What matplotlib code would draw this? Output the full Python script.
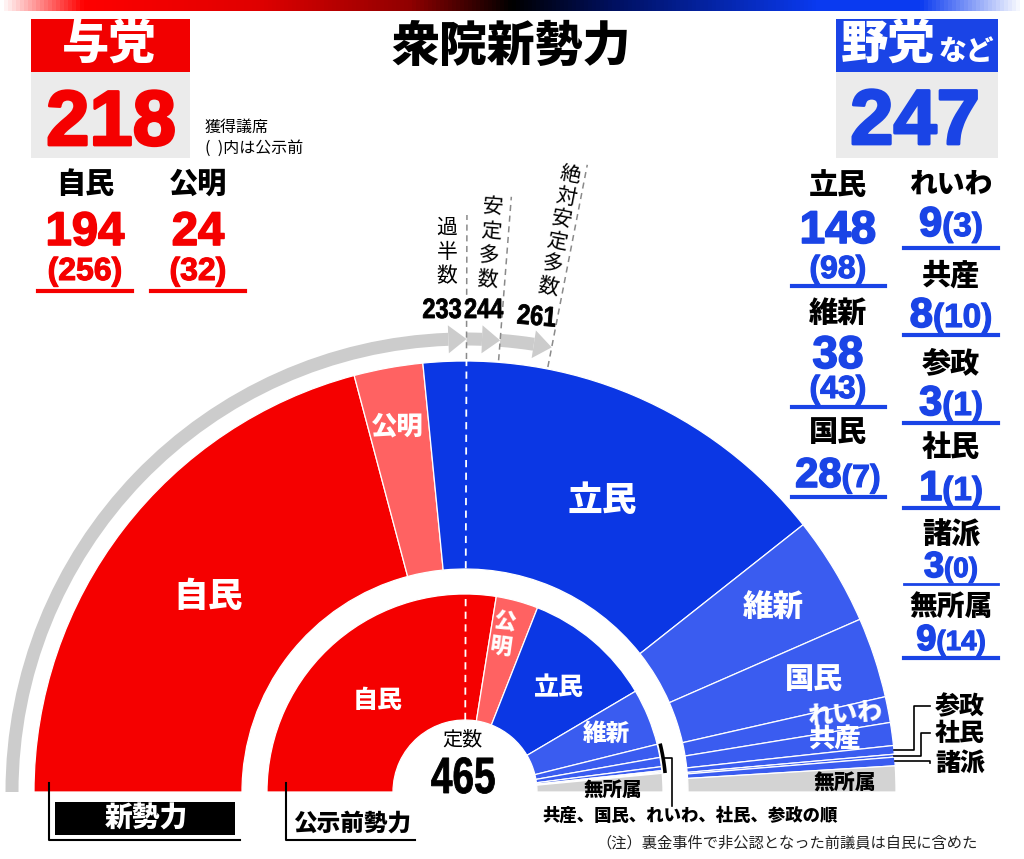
import numpy as np
import matplotlib
matplotlib.use('Agg')
import matplotlib.pyplot as plt
import matplotlib.patheffects as pe
from matplotlib.patches import Wedge, Rectangle, Polygon, PathPatch
from matplotlib.colors import LinearSegmentedColormap
from matplotlib.textpath import TextPath
from matplotlib.font_manager import FontProperties
from matplotlib.transforms import Affine2D

plt.rcParams['font.family'] = ['Noto Sans CJK JP', 'DejaVu Sans']

# 議席データ
total_seats = 465
parties_new = ['自民', '公明', '立民', '維新', '国民', 'れいわ', '共産', '参政', '社民', '諸派', '無所属']
seats_new = [194, 24, 148, 38, 28, 9, 8, 3, 1, 3, 9]
parties_before = ['自民', '公明', '立民', '維新', '共産', '国民', 'れいわ', '社民', '参政', '無所属']
seats_before = [256, 32, 98, 43, 10, 7, 3, 1, 1, 14]

thresholds = [233, 244, 261]
threshold_names = ['過半数', '安定多数', '絶対安定多数']

ruling_total = 218
opposition_total = 247
ruling_parties = ['自民', '公明']
ruling_new = [194, 24]
ruling_before = [256, 32]
opp_parties = ['立民', '維新', '国民', 'れいわ', '共産', '参政', '社民', '諸派', '無所属']
opp_new = [148, 38, 28, 9, 8, 3, 1, 3, 9]
opp_before = [98, 43, 7, 3, 10, 1, 1, 0, 14]

# 色
RED = '#f50000'
PINK = '#ff6262'
BLUE_D = '#0b37e4'
BLUE_L = '#3a5cf0'
BLUE_T = '#1a44e6'
GRAY = '#d3d3d3'
colors = {'自民': RED, '公明': PINK, '立民': BLUE_D, '無所属': GRAY}

NUM = ['Liberation Sans', 'DejaVu Sans']
JP = ['Noto Sans CJK JP', 'DejaVu Sans']
num_fp = FontProperties(family='Liberation Sans', weight='bold')

fig = plt.figure(figsize=(10.24, 8.59), dpi=100)
ax = fig.add_axes([0, 0, 1, 1])
ax.set_xlim(0, 1024)
ax.set_ylim(859, 0)
ax.axis('off')

CX, CY = 465, 792


def ang(s):
    return 180 - s / total_seats * 180


def pol(r, t):
    t = np.radians(t)
    return CX + r * np.cos(t), CY - r * np.sin(t)


def ring(names, seats, r_in, r_out):
    cum = 0
    mids = {}
    for n, s in zip(names, seats):
        t1, t2 = ang(cum + s), ang(cum)
        ax.add_patch(Wedge((CX, CY), r_out, -t2, -t1, width=r_out - r_in,
                           facecolor=colors.get(n, BLUE_L), edgecolor='white', lw=0.9))
        mids[n] = ang(cum + s / 2)
        cum += s
    return mids


def ctext(cx, base, s, px, sx=1.0, color='black', rot=0):
    # 長体の数字（横方向に縮めたテキスト）
    tp = TextPath((0, 0), s, size=px, prop=num_fp)
    ext = tp.get_extents()
    off = -(ext.x0 + ext.x1) / 2
    tr = Affine2D().translate(off, 0).scale(sx, -1).rotate_deg(rot).translate(cx, base)
    ax.add_patch(PathPatch(tr.transform_path(tp), facecolor=color, edgecolor=color, lw=0.6, zorder=4))


def heavy(color, w=1.2):
    return [pe.withStroke(linewidth=w, foreground=color)]


# 上部のグラデーション帯
grad = LinearSegmentedColormap.from_list('bar', [
    (0.0, '#ffffff'), (0.08, '#ff0000'), (0.25, '#e00000'), (0.4, '#900000'),
    (0.5, '#000000'), (0.6, '#001060'), (0.8, '#0a3af0'), (0.9, '#0a3af0'), (1.0, '#ffffff')])
ax.imshow(np.linspace(0, 1, 512)[None, :], cmap=grad, extent=(0, 1024, 11, 0), aspect='auto', zorder=0)

# リング
mid_new = ring(parties_new, seats_new, 223, 431)
mid_before = ring(parties_before, seats_before, 72, 198)

# 外側の灰色の矢印
arc_r, arc_w = 453, 13
head_len, head_w = 2.3, 14
start = 180
for th in thresholds:
    t_tip = ang(th)
    ax.add_patch(Wedge((CX, CY), arc_r + arc_w / 2, -start, -(t_tip + head_len), width=arc_w,
                       facecolor='#cccccc', edgecolor='none'))
    ax.add_patch(Polygon([pol(arc_r - head_w, t_tip + head_len), pol(arc_r + head_w, t_tip + head_len),
                          pol(arc_r, t_tip)], closed=True, facecolor='#cccccc', edgecolor='none'))
    start = t_tip

# 閾値の破線
ends = [577, 597, 639]
for th, r_end in zip(thresholds, ends):
    t = ang(th)
    x1, y1 = pol(433, t)
    x2, y2 = pol(r_end, t)
    ax.plot([x1, x2], [y1, y2], color='#8a8a8a', lw=1.1, ls=(0, (4, 3)))
t = ang(thresholds[0])
x1, y1 = pol(72, t)
x2, y2 = pol(431, t)
ax.plot([x1, x2], [y1, y2], color='white', lw=1.3, ls=(0, (4, 3)), zorder=3)

# 閾値の数字
for th, (x, y, rot) in zip(thresholds, [(442, 318, 0), (484, 318, 0), (536, 325, 5)]):
    ctext(x, y, str(th), 28, sx=0.84, rot=rot)

# 縦書きラベル
for name, (x0, y0, step, rot) in zip(threshold_names, [(447, 228, 24, 0), (493, 207, 24.5, -4.5),
                                                       (570, 175, 22.8, -11)]):
    dx = -np.sin(np.radians(-rot)) * step
    for i, ch in enumerate(name):
        ax.text(x0 + dx * i, y0 + step * i * np.cos(np.radians(rot)), ch, fontsize=15, family=JP,
                ha='center', va='center', rotation=rot)

# リング内ラベル
in_labels = [('自民', 208, 597, 25, 0), ('公明', 397, 426, 19, 0), ('立民', 602, 500, 25, 0),
             ('維新', 773, 607, 22, 0), ('国民', 814, 679, 21, 0), ('れいわ', 845, 713, 18, 4),
             ('共産', 835, 739, 19, 0),
             ('自民', 378, 700, 18, 0), ('立民', 559, 687, 18, 0), ('維新', 606, 734, 17, 0)]
for txt, x, y, fs, rot in in_labels:
    ax.text(x, y, txt, fontsize=fs, color='white', weight='black', family=JP,
            ha='center', va='center', rotation=rot)
ax.text(504, 622, '公', fontsize=16, color='white', weight='black', family=JP, ha='center', va='center', rotation=-8)
ax.text(501, 647, '明', fontsize=16, color='white', weight='black', family=JP, ha='center', va='center', rotation=-8)
ax.text(845, 783, '無所属', fontsize=15, weight='black', family=JP, ha='center', va='center')
ax.text(613, 790, '無所属', fontsize=14, weight='black', family=JP, ha='center', va='center')

ax.text(462, 740, '定数', fontsize=14.5, family=JP, ha='center', va='center')
ctext(463, 793, str(total_seats), 51, sx=0.76)

# 小会派の引き出し線（外側）
bends = {'参政': (914, 706), '社民': (921, 733), '諸派': (930, 763)}
for n, (bx, ly) in bends.items():
    sx, sy = pol(431, mid_new[n])
    ax.plot([sx, bx, bx, 930], [sy, sy, ly, ly], color='black', lw=1.2)
    ax.text(960, ly, n, fontsize=18, weight='black', family=JP, ha='center', va='center')

# 内側の小会派（共産〜参政）
cum_small = sum(seats_before[:4])
cum_small_end = cum_small + sum(seats_before[4:9])
tt = np.linspace(ang(cum_small_end), ang(cum_small), 20)
pts = np.array([pol(201, t) for t in tt])
ax.plot(pts[:, 0], pts[:, 1], color='black', lw=2.6, solid_capstyle='butt')
mx, my = pol(203, (ang(cum_small_end) + ang(cum_small)) / 2)
ax.plot([mx, 672, 672], [my, my, 806], color='black', lw=1.2)
ax.text(690, 816, '共産、国民、れいわ、社民、参政の順', fontsize=12.5, weight='black', family=JP,
        ha='center', va='center')
ax.text(787, 843, '（注）裏金事件で非公認となった前議員は自民に含めた', fontsize=11, family=JP,
        ha='center', va='center', color='#222222')

# 下のブラケット
ax.add_patch(Rectangle((55, 802), 180, 33, facecolor='black'))
ax.text(146, 818, '新勢力', fontsize=20, color='white', weight='black', family=JP, ha='center', va='center')
ax.plot([49, 49, 240], [783, 840, 840], color='black', lw=1.5)
ax.text(352, 823, '公示前勢力', fontsize=17, weight='black', family=JP, ha='center', va='center')
ax.plot([286, 286, 415], [783, 840, 840], color='black', lw=1.5)

# タイトル
ax.text(511, 47, '衆院新勢力', fontsize=34.5, weight='black', family=JP, ha='center', va='center')

# 与党ボックス
ax.add_patch(Rectangle((31, 19), 159, 53, facecolor='#f20000'))
ax.add_patch(Rectangle((31, 72), 159, 86, facecolor='#ebebeb'))
ax.text(109, 45, '与党', fontsize=34, color='white', weight='black', family=JP, ha='center', va='center')
ax.text(111, 145, str(ruling_total), fontsize=56, color=RED, weight='bold', family=NUM, ha='center',
        va='baseline', path_effects=heavy(RED, 2))
ax.text(205, 127, '獲得議席', fontsize=11.5, family=JP, ha='left', va='center')
ax.text(205, 148, '(  )内は公示前', fontsize=11.5, family=JP, ha='left', va='center')

# 野党ボックス
ax.add_patch(Rectangle((836, 19), 162, 53, facecolor=BLUE_T))
ax.add_patch(Rectangle((836, 72), 162, 86, facecolor='#ebebeb'))
ax.text(888, 45, '野党', fontsize=34, color='white', weight='black', family=JP, ha='center', va='center')
ax.text(966, 52, 'など', fontsize=20, color='white', weight='black', family=JP, ha='center', va='center')
ax.text(915, 144, str(opposition_total), fontsize=56, color=BLUE_T, weight='bold', family=NUM,
        ha='center', va='baseline', path_effects=heavy(BLUE_T, 2))

# 与党内訳
for n, v, b, cx in zip(ruling_parties, ruling_new, ruling_before, [85, 198]):
    ax.text(cx, 184, n, fontsize=21, weight='black', family=JP, ha='center', va='center')
    ax.text(cx, 245, str(v), fontsize=34, color=RED, weight='bold', family=NUM, ha='center', va='baseline',
            path_effects=heavy(RED))
    ax.text(cx, 280, f'({b})', fontsize=23, color=RED, weight='bold', family=NUM, ha='center', va='baseline',
            path_effects=heavy(RED, 0.8))
    ax.plot([cx - 47, cx + 47], [291, 291], color=RED, lw=3)

renderer = fig.canvas.get_renderer()


def num_paren(cx, base, n, p, fs_n, fs_p):
    t1 = ax.text(0, base, str(n), fontsize=fs_n, color=BLUE_T, weight='bold', family=NUM, va='baseline',
                 path_effects=heavy(BLUE_T))
    t2 = ax.text(0, base, f'({p})', fontsize=fs_p, color=BLUE_T, weight='bold', family=NUM, va='baseline',
                 path_effects=heavy(BLUE_T, 0.8))
    w1 = t1.get_window_extent(renderer).width
    w2 = t2.get_window_extent(renderer).width
    x0 = cx - (w1 + w2) / 2
    t1.set_x(x0)
    t2.set_x(x0 + w1)


opp = {n: (v, b) for n, v, b in zip(opp_parties, opp_new, opp_before)}

# 野党 左列
col1 = [('立民', 185, 243, 278, 286), ('維新', 313, 368, 398, 407)]
for n, ny, nb, pb, ly in col1:
    v, b = opp[n]
    ax.text(838, ny, n, fontsize=21, weight='black', family=JP, ha='center', va='center')
    ax.text(838, nb, str(v), fontsize=33, color=BLUE_T, weight='bold', family=NUM, ha='center', va='baseline',
            path_effects=heavy(BLUE_T))
    ax.text(838, pb, f'({b})', fontsize=23, color=BLUE_T, weight='bold', family=NUM, ha='center', va='baseline',
            path_effects=heavy(BLUE_T, 0.8))
    ax.plot([792, 885], [ly, ly], color=BLUE_T, lw=3)
v, b = opp['国民']
ax.text(838, 432, '国民', fontsize=21, weight='black', family=JP, ha='center', va='center')
num_paren(838, 487, v, b, 30, 23)
ax.plot([792, 885], [497, 497], color=BLUE_T, lw=3)

# 野党 右列
col2 = [('れいわ', 184, 236, 248, 30, 3), ('共産', 276, 327, 335, 30, 3), ('参政', 363, 415, 423, 30, 3),
        ('社民', 447, 500, 508, 30, 3), ('諸派', 535, 577, 584, 26, 2), ('無所属', 607, 650, 658, 26, 3)]
for n, ny, nb, ly, fs, lw in col2:
    v, b = opp[n]
    ax.text(951, ny, n, fontsize=21 if len(n) < 3 else 20, weight='black', family=JP, ha='center', va='center')
    num_paren(951, nb, v, b, fs, fs - 6)
    ax.plot([904, 998], [ly, ly], color=BLUE_T, lw=lw)

fig.savefig('out.png', dpi=100)
